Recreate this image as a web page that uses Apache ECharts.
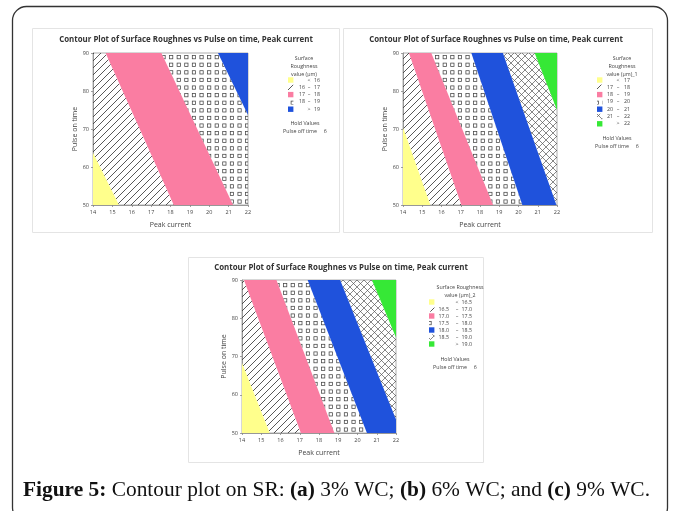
<!DOCTYPE html>
<html>
<head>
<meta charset="utf-8">
<script src="https://cdn.jsdelivr.net/npm/echarts@6/dist/echarts.min.js"></script>
<style>
  html, body { margin: 0; padding: 0; background: #fff; }
  #chart { width: 673px; height: 511px; }
</style>
</head>
<body>
<div id="chart"></div>
<script>
// axis ticks shared by the three panels
const xTicks = [14, 15, 16, 17, 18, 19, 20, 21, 22];
const yTicks = [50, 60, 70, 80, 90];

// contour boundaries: [peak current at pulse-on 50, peak current at pulse-on 90]
const linesA = [[15.34, 11.45], [18.17, 14.65], [21.23, 17.53], [24.25, 20.45]];
const linesB = [[15.42, 12.64], [17.03, 14.31], [18.68, 15.47], [20.2, 17.55], [21.97, 19.19], [23.93, 20.84]];
const linesC = [[15.44, 12.29], [17.06, 14.1], [18.8, 15.79], [20.49, 17.41], [22.28, 19.1], [24.08, 20.75]];

// legend rows: [low, symbol, high]
const levelsA = [['', '<', '16'], ['16', '–', '17'], ['17', '–', '18'], ['18', '–', '19'], ['', '>', '19']];
const levelsB = [['', '<', '17'], ['17', '–', '18'], ['18', '–', '19'], ['19', '–', '20'], ['20', '–', '21'], ['21', '–', '22'], ['', '>', '22']];
const levelsC = [['', '<', '16.5'], ['16.5', '–', '17.0'], ['17.0', '–', '17.5'], ['17.5', '–', '18.0'], ['18.0', '–', '18.5'], ['18.5', '–', '19.0'], ['', '>', '19.0']];

const fillsA = ['yellow', 'hatch', 'pink', 'squares', 'blue'];
const fillsB = ['yellow', 'hatch', 'pink', 'squares', 'blue', 'cross', 'green'];
const fillsC = fillsB;

const FONT = 'Open Sans';

function makePattern(kind) {
    const c = document.createElement('canvas');
    const g = c.getContext && c.getContext('2d');
    if (kind === 'hatch') {
        const s = 7;
        c.width = c.height = s;
        g.strokeStyle = '#3a3a3a';
        g.lineWidth = 0.85;
        g.beginPath();
        g.moveTo(0, s); g.lineTo(s, 0);
        g.moveTo(-1, 1); g.lineTo(1, -1);
        g.moveTo(s - 1, s + 1); g.lineTo(s + 1, s - 1);
        g.stroke();
    } else if (kind === 'cross') {
        const s = 7;
        c.width = c.height = s;
        g.strokeStyle = '#555';
        g.lineWidth = 0.7;
        g.beginPath();
        g.moveTo(0, s); g.lineTo(s, 0);
        g.moveTo(0, 0); g.lineTo(s, s);
        g.stroke();
    } else {
        const step = 7.6, n = 5;
        c.width = c.height = step * n;
        g.strokeStyle = '#444';
        g.lineWidth = 0.75;
        for (let i = 0; i < n; i++) {
            for (let j = 0; j < n; j++) {
                g.strokeRect(i * step + 2.3, j * step + 2.3, 3.3, 3.3);
            }
        }
    }
    return { image: c, repeat: 'repeat' };
}

const fillStyles = {
    yellow: '#FFFF8C',
    pink: '#FA7DA2',
    blue: '#1F52DC',
    green: '#36E836',
    hatch: makePattern('hatch'),
    cross: makePattern('cross'),
    squares: makePattern('squares')
};

function clip(poly, g) {
    const out = [];
    for (let k = 0; k < poly.length; k++) {
        const P = poly[k], Q = poly[(k + 1) % poly.length];
        const gp = g(P), gq = g(Q);
        if (gp >= 0) out.push(P);
        if ((gp >= 0) !== (gq >= 0)) {
            const t = gp / (gp - gq);
            out.push([P[0] + t * (Q[0] - P[0]), P[1] + t * (Q[1] - P[1])]);
        }
    }
    return out;
}

function xOn(line, y) {
    return line[0] + (line[1] - line[0]) * (y - 50) / 40;
}

function regionSeries(idx, lines, fills) {
    return {
        type: 'custom',
        xAxisIndex: idx,
        yAxisIndex: idx,
        data: fills.map((f, i) => [i]),
        renderItem: function (params, api) {
            const i = api.value(0);
            let poly = [[14, 50], [22, 50], [22, 90], [14, 90]];
            if (i > 0) poly = clip(poly, p => p[0] - xOn(lines[i - 1], p[1]));
            if (i < lines.length) poly = clip(poly, p => xOn(lines[i], p[1]) - p[0]);
            if (poly.length < 3) return null;
            return {
                type: 'polygon',
                shape: { points: poly.map(p => api.coord(p)) },
                style: { fill: fillStyles[fills[i]], stroke: null }
            };
        },
        silent: true
    };
}

const panels = [
    { left: 93, top: 53, width: 155, height: 152, lines: linesA, fills: fillsA },
    { left: 403, top: 53, width: 154, height: 152, lines: linesB, fills: fillsB },
    { left: 242, top: 280, width: 154, height: 153, lines: linesC, fills: fillsC }
];

const axisLabelStyle = { fontSize: 5.5, color: '#444', fontFamily: FONT };

const option = {
    animation: false,
    grid: panels.map(p => ({
        left: p.left, top: p.top, width: p.width, height: p.height,
        show: true, borderColor: '#999', borderWidth: 0.8, backgroundColor: '#fff'
    })),
    xAxis: panels.map((p, i) => ({
        type: 'value', gridIndex: i, min: xTicks[0], max: xTicks[xTicks.length - 1], interval: 1,
        name: 'Peak current', nameLocation: 'middle', nameGap: 16,
        nameTextStyle: { fontSize: 7, color: '#444', fontFamily: FONT },
        axisLine: { lineStyle: { color: '#888', width: 0.8 } },
        axisTick: { length: 2, lineStyle: { color: '#888', width: 0.8 } },
        axisLabel: Object.assign({ margin: 4 }, axisLabelStyle),
        splitLine: { show: false }
    })),
    yAxis: panels.map((p, i) => ({
        type: 'value', gridIndex: i, min: yTicks[0], max: yTicks[yTicks.length - 1], interval: 10,
        name: 'Pulse on time', nameLocation: 'middle', nameGap: 13,
        nameTextStyle: { fontSize: 7, color: '#444', fontFamily: FONT },
        axisLine: { lineStyle: { color: '#888', width: 0.8 } },
        axisTick: { length: 2, lineStyle: { color: '#888', width: 0.8 } },
        axisLabel: Object.assign({ margin: 4 }, axisLabelStyle),
        splitLine: { show: false }
    })),
    series: panels.map((p, i) => regionSeries(i, p.lines, p.fills)),
    graphic: []
};

const G = option.graphic;

function txt(x, y, text, size, opts) {
    G.push({
        type: 'text', x: x, y: y, silent: true,
        style: Object.assign({
            text: text, fontSize: size, fontFamily: FONT, fill: '#444',
            textAlign: 'center', textVerticalAlign: 'middle'
        }, opts || {})
    });
}

// outer frame and panel frames
G.push({ type: 'rect', shape: { x: 12.5, y: 6.5, width: 655, height: 515, r: 14 },
    style: { fill: 'none', stroke: '#333', lineWidth: 1.3 }, silent: true });
[[32.5, 28.5, 307, 204], [343.5, 28.5, 309, 204], [188.5, 257.5, 295, 205]].forEach(b => {
    G.push({ type: 'rect', shape: { x: b[0], y: b[1], width: b[2], height: b[3] },
        style: { fill: 'none', stroke: '#e4e4e4', lineWidth: 1 }, silent: true, z: -1 });
});

// titles
const titleText = 'Contour Plot of Surface Roughnes vs Pulse on time, Peak current';
txt(186, 40, titleText, 7.9, { fontWeight: 'bold', fill: '#333' });
txt(496, 40, titleText, 7.9, { fontWeight: 'bold', fill: '#333' });
txt(341, 268, titleText, 7.9, { fontWeight: 'bold', fill: '#333' });

// legends
function legend(cfg) {
    cfg.header.forEach((h, k) => txt(cfg.hx, cfg.hy + k * 8, h, 5.3));
    cfg.levels.forEach((lv, k) => {
        const y = cfg.y0 + k * cfg.dy;
        G.push({ type: 'rect', shape: { x: cfg.sx, y: y - 2.7, width: 5.4, height: 5.4 },
            style: { fill: fillStyles[cfg.fills[k]], stroke: null }, silent: true });
        txt(cfg.lo, y, lv[0], 5.3, { textAlign: 'right' });
        txt(cfg.sym, y, lv[1], 5.3);
        txt(cfg.hi, y, lv[2], 5.3, { textAlign: 'right' });
    });
    txt(cfg.hx2, cfg.holdY, 'Hold Values', 5.3);
    txt(cfg.hx2, cfg.holdY + 8, 'Pulse off time     6', 5.3);
}

legend({ header: ['Surface', 'Roughness', 'value (µm)'], hx: 304, hy: 58,
    levels: levelsA, fills: fillsA, y0: 80, dy: 7.3, sx: 288, lo: 305, sym: 309, hi: 320,
    hx2: 305, holdY: 123 });
legend({ header: ['Surface', 'Roughness', 'value (µm)_1'], hx: 622, hy: 58,
    levels: levelsB, fills: fillsB, y0: 80, dy: 7.3, sx: 597, lo: 613, sym: 618, hi: 630,
    hx2: 617, holdY: 138 });
legend({ header: ['Surface Roughness', 'value (µm)_2'], hx: 460, hy: 287,
    levels: levelsC, fills: fillsC, y0: 302, dy: 7, sx: 429, lo: 449, sym: 457, hi: 472,
    hx2: 455, holdY: 359 });

// caption
G.push({
    type: 'text', x: 23, y: 490, silent: true,
    style: {
        text: '{b|Figure 5:} Contour plot on SR: {b|(a)} 3% WC; {b|(b)} 6% WC; and {b|(c)} 9% WC.',
        fontFamily: 'Liberation Serif', fontSize: 21.4, fill: '#111',
        textVerticalAlign: 'middle',
        rich: { b: { fontWeight: 'bold', fontFamily: 'Liberation Serif', fontSize: 21.4, fill: '#111' } }
    }
});

const chart = echarts.init(document.getElementById('chart'), null, { renderer: 'canvas' });
chart.setOption(option);
</script>
</body>
</html>
